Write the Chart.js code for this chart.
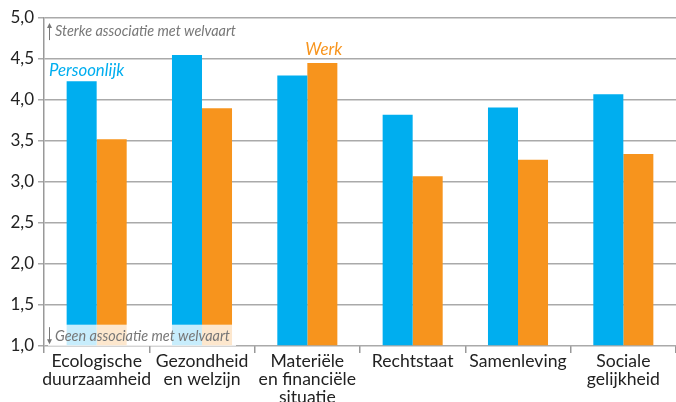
<!DOCTYPE html>
<html><head><meta charset="utf-8">
<script src="https://cdn.jsdelivr.net/npm/chart.js@4/dist/chart.umd.min.js"></script>
<style>html,body{margin:0;padding:0;background:#fff;overflow:hidden}#wrap{width:676px;height:402px;position:relative}</style>
</head><body><div id="wrap"><canvas id="c" width="676" height="402"></canvas></div>
<script>
const categories = [["Ecologische","duurzaamheid"],["Gezondheid","en welzijn"],["Materiële","en financiële","situatie"],["Rechtstaat"],["Samenleving"],["Sociale","gelijkheid"]];
const persoonlijk = [4.23, 4.55, 4.30, 3.82, 3.91, 4.07];
const werk = [3.52, 3.90, 4.45, 3.07, 3.27, 3.34];
const yTicks = [1.0, 1.5, 2.0, 2.5, 3.0, 3.5, 4.0, 4.5, 5.0];
const BLUE = "#00AEEF", ORANGE = "#F7941D";
const FONT = "Lato";

const annot = {
  id: "annot",
  afterDatasetsDraw(chart) {
    const ctx = chart.ctx, ca = chart.chartArea, y = chart.scales.y;
    ctx.save();
    ctx.fillStyle = "rgba(255,255,255,0.78)";
    ctx.fillRect(ca.left + 4, y.getPixelForValue(1.26), 188, y.getPixelForValue(1.0) - y.getPixelForValue(1.26));
    ctx.fillStyle = "#777"; ctx.strokeStyle = "#777"; ctx.lineWidth = 1;
    ctx.font = "italic 14.4px " + FONT;
    ctx.textBaseline = "middle"; ctx.textAlign = "left";
    const ax = ca.left + 5.5;
    const ty = y.getPixelForValue(4.84);
    ctx.beginPath(); ctx.moveTo(ax, ty + 9); ctx.lineTo(ax, ty - 6); ctx.stroke();
    ctx.beginPath(); ctx.moveTo(ax - 2.5, ty - 3); ctx.lineTo(ax, ty - 8); ctx.lineTo(ax + 2.5, ty - 3); ctx.closePath(); ctx.fill();
    ctx.fillText("Sterke associatie met welvaart", ca.left + 11, ty);
    const by = y.getPixelForValue(1.12);
    ctx.beginPath(); ctx.moveTo(ax, by - 9); ctx.lineTo(ax, by + 6); ctx.stroke();
    ctx.beginPath(); ctx.moveTo(ax - 2.5, by + 3); ctx.lineTo(ax, by + 8); ctx.lineTo(ax + 2.5, by + 3); ctx.closePath(); ctx.fill();
    ctx.fillText("Geen associatie met welvaart", ca.left + 11, by);
    ctx.font = "italic 16.8px " + FONT;
    ctx.fillStyle = BLUE;
    ctx.fillText("Persoonlijk", ca.left + 5, y.getPixelForValue(4.36));
    ctx.fillStyle = ORANGE;
    const wx = chart.scales.x.getPixelForValue(2);
    ctx.fillText("Werk", wx - 2, y.getPixelForValue(4.61));
    ctx.restore();
  }
};

new Chart(document.getElementById("c"), {
  type: "bar",
  data: {
    labels: categories,
    datasets: [
      { label: "Persoonlijk", data: persoonlijk, backgroundColor: BLUE, borderWidth: 0 },
      { label: "Werk", data: werk, backgroundColor: ORANGE, borderWidth: 0 }
    ]
  },
  options: {
    responsive: false, animation: false,
    layout: { padding: { top: 18, right: 0, left: 0, bottom: 0 } },
    plugins: { legend: { display: false }, tooltip: { enabled: false } },
    datasets: { bar: { categoryPercentage: 0.57, barPercentage: 1.0, base: 1 } },
    scales: {
      x: {
        offset: true,
        grid: { offset: true, drawOnChartArea: false, color: "#999", lineWidth: 1.5, tickLength: 7 },
        border: { display: false },
        ticks: { color: "#222", font: { family: FONT, size: 17.6, lineHeight: 1.0 }, padding: 0, maxRotation: 0, autoSkip: false },
        afterFit(s) { s.height = 56; }
      },
      y: {
        min: 1, max: 5,
        afterBuildTicks(s) { s.ticks = yTicks.map(v => ({ value: v })); },
        grid: { color: "#aaa", lineWidth: 1.5, tickLength: 6 },
        border: { color: "#999", width: 1.5 },
        ticks: { color: "#222", font: { family: FONT, size: 17 }, padding: 4,
          callback: v => v.toFixed(1).replace(".", ",") },
        afterFit(s) { s.width = 44; }
      }
    }
  },
  plugins: [annot]
});
</script></body></html>
